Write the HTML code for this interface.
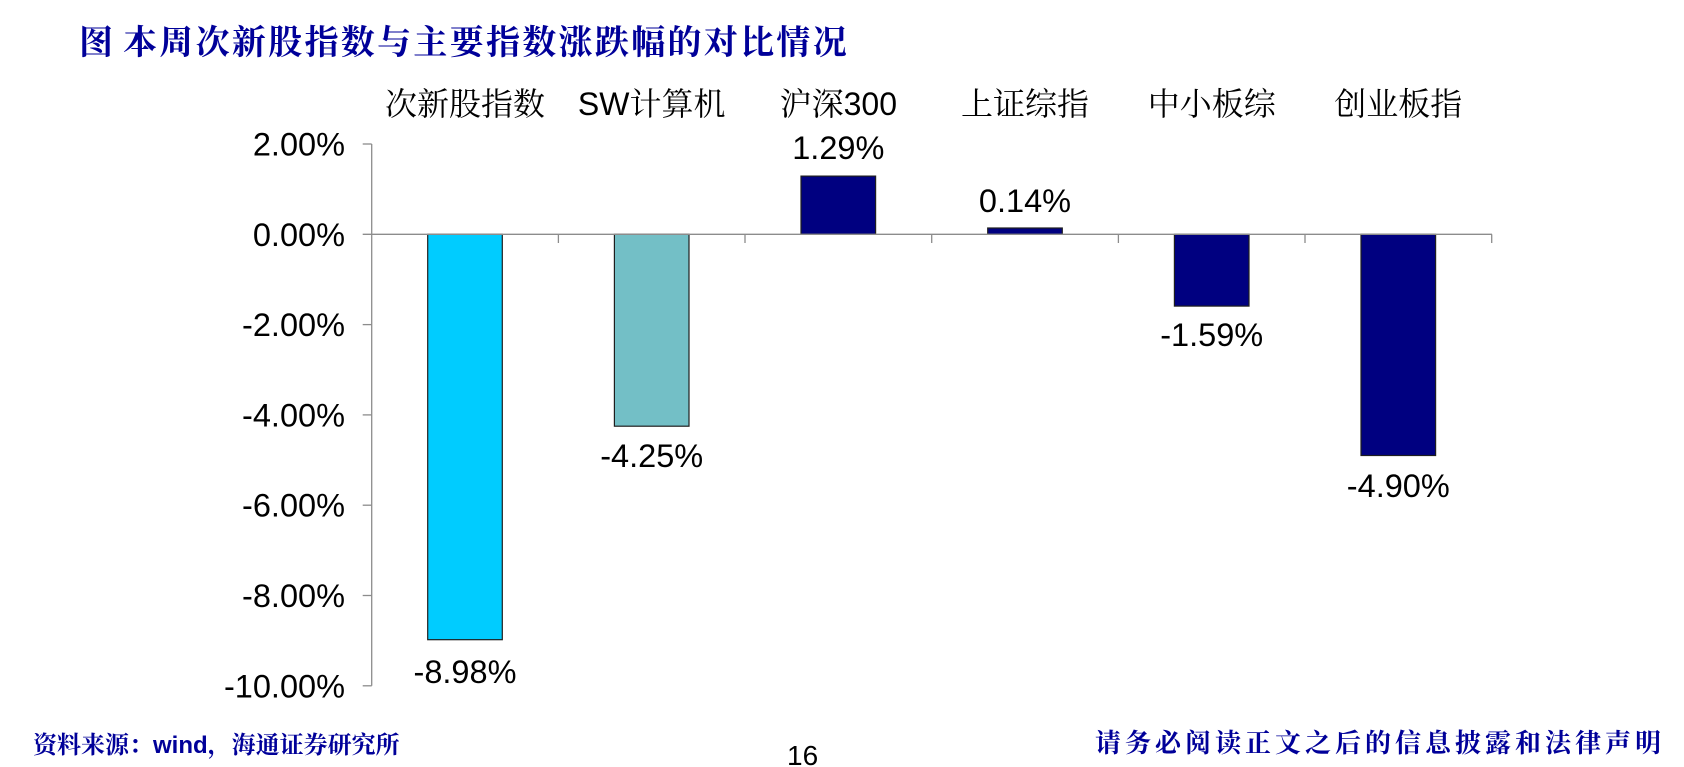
<!DOCTYPE html>
<html>
<head>
<meta charset="utf-8">
<style>
  html, body { margin:0; padding:0; background:#ffffff; }
  body { width:1684px; height:767px; overflow:hidden; }
  svg { display:block; }
  .tick { font-family:"Liberation Sans", Arial, sans-serif; font-size:32.5px; fill:#000; }
  .cat { font-family:"Liberation Sans", "Noto Serif CJK SC", serif; font-size:32px; fill:#000; }
  .title { font-family:"Liberation Serif", "Noto Serif CJK SC", serif; font-size:34px; font-weight:bold; fill:#000099; }
  .foot { font-family:"Liberation Sans", "Noto Serif CJK SC", serif; font-weight:bold; fill:#000099; }
</style>
</head>
<body>
<svg width="1684" height="767" viewBox="0 0 1684 767" xmlns="http://www.w3.org/2000/svg">
  <rect x="0" y="0" width="1684" height="767" fill="#ffffff"/>

  <!-- Title -->
  <text class="title" x="79" y="54">图</text>
  <text class="title" x="123" y="54" letter-spacing="2.3">本周次新股指数与主要指数涨跌幅的对比情况</text>

  <!-- Category labels -->
  <text class="cat" x="465" y="115" text-anchor="middle">次新股指数</text>
  <text class="cat" x="651.7" y="115" text-anchor="middle">SW计算机</text>
  <text class="cat" x="838.3" y="115" text-anchor="middle">沪深300</text>
  <text class="cat" x="1025" y="115" text-anchor="middle">上证综指</text>
  <text class="cat" x="1211.7" y="115" text-anchor="middle">中小板综</text>
  <text class="cat" x="1398.3" y="115" text-anchor="middle">创业板指</text>

  <!-- Y axis -->
  <line x1="371.7" y1="144" x2="371.7" y2="685.8" stroke="#8c8c8c" stroke-width="1.3"/>
  <g stroke="#8c8c8c" stroke-width="1.3">
    <line x1="362.7" y1="144" x2="371.7" y2="144"/>
    <line x1="362.7" y1="324.6" x2="371.7" y2="324.6"/>
    <line x1="362.7" y1="414.9" x2="371.7" y2="414.9"/>
    <line x1="362.7" y1="505.2" x2="371.7" y2="505.2"/>
    <line x1="362.7" y1="595.5" x2="371.7" y2="595.5"/>
    <line x1="362.7" y1="685.8" x2="371.7" y2="685.8"/>
  </g>

  <!-- Y tick labels -->
  <text class="tick" x="345" y="155.5" text-anchor="end">2.00%</text>
  <text class="tick" x="345" y="245.8" text-anchor="end">0.00%</text>
  <text class="tick" x="345" y="336.1" text-anchor="end">-2.00%</text>
  <text class="tick" x="345" y="426.4" text-anchor="end">-4.00%</text>
  <text class="tick" x="345" y="516.7" text-anchor="end">-6.00%</text>
  <text class="tick" x="345" y="607" text-anchor="end">-8.00%</text>
  <text class="tick" x="345" y="697.3" text-anchor="end">-10.00%</text>

  <!-- Bars -->
  <g stroke="#1e1e1e" stroke-width="1.2">
    <rect x="427.7" y="234.3" width="74.6" height="405.4" fill="#00CCFF"/>
    <rect x="614.4" y="234.3" width="74.6" height="191.9" fill="#73BFC6"/>
    <rect x="801.0" y="176.1" width="74.6" height="58.2" fill="#000080"/>
    <rect x="987.7" y="228.0" width="74.6" height="6.3" fill="#000080"/>
    <rect x="1174.4" y="234.3" width="74.6" height="71.8" fill="#000080"/>
    <rect x="1361.0" y="234.3" width="74.6" height="221.2" fill="#000080"/>
  </g>

  <!-- Zero line with category ticks -->
  <line x1="362.7" y1="234.3" x2="1492" y2="234.3" stroke="#8c8c8c" stroke-width="1.3"/>
  <g stroke="#8c8c8c" stroke-width="1.3">
    <line x1="558.4" y1="234.3" x2="558.4" y2="243"/>
    <line x1="745.0" y1="234.3" x2="745.0" y2="243"/>
    <line x1="931.7" y1="234.3" x2="931.7" y2="243"/>
    <line x1="1118.4" y1="234.3" x2="1118.4" y2="243"/>
    <line x1="1305.0" y1="234.3" x2="1305.0" y2="243"/>
    <line x1="1491.7" y1="234.3" x2="1491.7" y2="243"/>
  </g>

  <!-- Data labels -->
  <text class="tick" x="465" y="683" text-anchor="middle">-8.98%</text>
  <text class="tick" x="651.7" y="467" text-anchor="middle">-4.25%</text>
  <text class="tick" x="838.3" y="159" text-anchor="middle">1.29%</text>
  <text class="tick" x="1025" y="212" text-anchor="middle">0.14%</text>
  <text class="tick" x="1211.7" y="346" text-anchor="middle">-1.59%</text>
  <text class="tick" x="1398.3" y="497" text-anchor="middle">-4.90%</text>

  <!-- Footer -->
  <text class="foot" x="33" y="753" font-size="24">资料来源：wind，海通证券研究所</text>
  <text x="787" y="765" font-family="Liberation Sans, Arial, sans-serif" font-size="28" fill="#000">16</text>
  <text class="foot" x="1095" y="752" font-size="26" letter-spacing="4">请务必阅读正文之后的信息披露和法律声明</text>
</svg>
</body>
</html>
